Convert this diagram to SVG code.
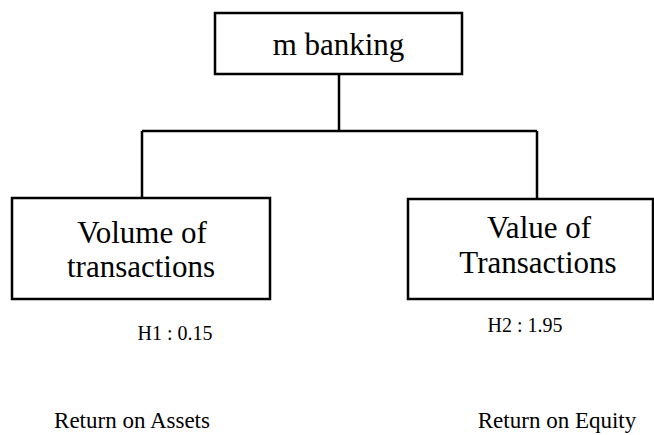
<svg xmlns="http://www.w3.org/2000/svg" width="654" height="435" viewBox="0 0 654 435">
<style>
.box{fill:#fff;stroke:#000;stroke-width:2.5}
.conn{fill:none;stroke:#000;stroke-width:2.5}
text{fill:#000;text-anchor:middle}
.big{font-size:31px}
.lbl{font-size:20px}
.out{font-size:23px}
</style>
<rect width="654" height="435" fill="#fff"/>
<g id="connectors">
<path class="conn" d="M339,74 V131 M142,131 H537 M142,131 V198 M537,131 V199"/>
</g>
<g font-family="'Liberation Serif', 'Times New Roman', 'DejaVu Serif', serif">
<g id="node-mbanking">
<rect class="box" x="215" y="13" width="247" height="61"/>
<text class="big" x="338.5" y="55">m banking</text>
</g>
<g id="node-volume">
<rect class="box" x="12" y="198" width="258" height="101"/>
<text class="big" x="142" y="243">Volume of</text>
<text class="big" x="141" y="277">transactions</text>
</g>
<g id="node-value">
<rect class="box" x="408" y="199" width="245" height="100"/>
<text class="big" x="539" y="238">Value of</text>
<text class="big" x="538" y="273">Transactions</text>
</g>
<g id="label-h1">
<text class="lbl" x="175" y="340">H1 : 0.15</text>
</g>
<g id="label-h2">
<text class="lbl" x="525" y="332">H2 : 1.95</text>
</g>
<g id="node-roa">
<text class="out" x="132" y="428">Return on Assets</text>
</g>
<g id="node-roe">
<text class="out" x="557" y="428">Return on Equity</text>
</g>
</g>
</svg>
